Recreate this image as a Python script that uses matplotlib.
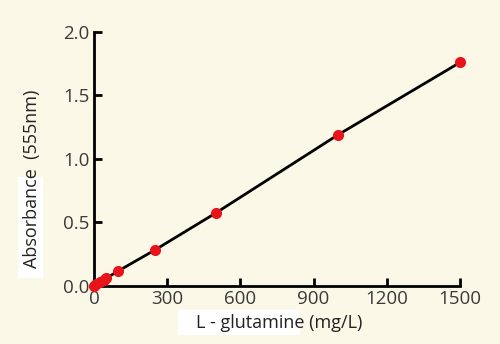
import numpy as np
import matplotlib.pyplot as plt
from matplotlib.patches import Rectangle

BG = '#FCF8E8'
TXT = '#3a3a3a'

conc = [0, 10, 25, 40, 50, 100, 250, 500, 1000, 1500]
absorb = [0.0, 0.012, 0.03, 0.045, 0.06, 0.118, 0.283, 0.575, 1.19, 1.76]
xticks = [0, 300, 600, 900, 1200, 1500]
yticks = [0.0, 0.5, 1.0, 1.5, 2.0]

plt.rcParams['font.family'] = ['Open Sans', 'DejaVu Sans']

fig = plt.figure(figsize=(5, 3.44), dpi=100, facecolor=BG)
ax = fig.add_axes([0.188, 0.169, 0.732, 0.738])
ax.set_facecolor(BG)

ax.plot(conc, absorb, color='black', linewidth=2, zorder=2, clip_on=False)
ax.plot(conc, absorb, 'o', color='#E8141C', markersize=7, zorder=3, clip_on=False)

ax.set_xlim(0, 1500)
ax.set_ylim(0, 2.0)
ax.set_xticks(xticks)
ax.set_yticks(yticks)
ax.set_yticklabels([f'{v:.1f}' for v in yticks])

for s in ['top', 'right']:
    ax.spines[s].set_visible(False)
for s in ['left', 'bottom']:
    ax.spines[s].set_linewidth(2)

ax.tick_params(direction='in', length=6, width=2, labelsize=13.5,
               labelcolor=TXT, pad=3)

# white patches behind the axis titles (only partly cover them, as in the source)
fig.patches.append(Rectangle((0.036, 0.192), 0.05, 0.294, transform=fig.transFigure,
                             facecolor='white', edgecolor='none', zorder=0))
fig.patches.append(Rectangle((0.356, 0.026), 0.244, 0.073, transform=fig.transFigure,
                             facecolor='white', edgecolor='none', zorder=0))

fig.text(0.064, 0.481, 'Absorbance  (555nm)', rotation=90, ha='center', va='center',
         fontsize=13, color='#222222')
fig.text(0.559, 0.061, 'L - glutamine (mg/L)', ha='center', va='center',
         fontsize=13, color='#222222')

fig.savefig('out.png', dpi=100, facecolor=BG)
